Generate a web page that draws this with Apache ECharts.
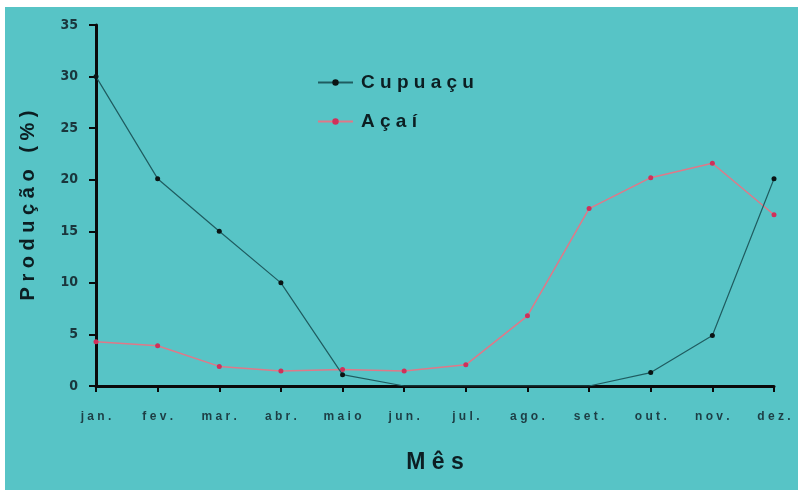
<!DOCTYPE html>
<html>
<head>
<meta charset="utf-8">
<script src="https://cdn.jsdelivr.net/npm/echarts@6/dist/echarts.min.js"></script>
<style>
  html, body { margin: 0; padding: 0; background: #ffffff; }
  #chart { position: absolute; left: 5px; top: 7px; width: 793px; height: 483px; }
</style>
</head>
<body>
<div id="chart"></div>
<script>
// meses
var months = ['jan.', 'fev.', 'mar.', 'abr.', 'maio', 'jun.', 'jul.', 'ago.', 'set.', 'out.', 'nov.', 'dez.'];
// producao (%) por mes
var cupuacu = [30, 20.1, 15, 10, 1.1, 0, 0, 0, 0, 1.3, 4.9, 20.1];
var acai = [4.3, 3.9, 1.9, 1.45, 1.6, 1.45, 2.05, 6.8, 17.2, 20.2, 21.6, 16.6];
var yTicks = [0, 5, 10, 15, 20, 25, 30, 35];

// espaçamento entre letras (zrender nao tem letter-spacing)
function spaced(s, sep) {
    return s.split('').join(sep);
}

var chart = echarts.init(document.getElementById('chart'));
var option = {
    backgroundColor: '#57c4c6',
    animation: false,
    textStyle: { fontFamily: 'Liberation Sans' },
    grid: {
        left: 91,
        right: 24,
        top: 18,
        bottom: 104
    },
    legend: {
        orient: 'vertical',
        left: 307,
        top: 61,
        itemWidth: 35,
        itemHeight: 8,
        itemGap: 20,
        formatter: function (name) { return spaced(name, ' '); },
        textStyle: { fontSize: 19, fontWeight: 'bold', color: '#0c1e22', padding: [0, 0, 0, 3] },
        data: ['Cupuaçu', 'Açaí']
    },
    xAxis: {
        type: 'category',
        data: months,
        boundaryGap: false,
        name: 'Mês',
        nameLocation: 'middle',
        nameGap: 65,
        nameTextStyle: { fontSize: 23, fontWeight: 'bold', color: '#0c1e22' },
        axisLine: { lineStyle: { color: '#0a0a0a', width: 3 } },
        axisTick: { show: true, alignWithLabel: true, length: 6, lineStyle: { color: '#0a0a0a', width: 2 } },
        axisLabel: {
            margin: 25,
            fontSize: 12,
            fontWeight: 'bold',
            color: '#1d3d44',
            formatter: function (v) { return spaced(v, ' '); }
        },
        splitLine: { show: false }
    },
    yAxis: {
        type: 'value',
        min: 0,
        max: 35,
        interval: 5,
        name: 'Produção (%)',
        nameLocation: 'middle',
        nameGap: 58,
        nameTextStyle: { fontSize: 20, fontWeight: 'bold', color: '#0c1e22' },
        axisLine: { show: true, lineStyle: { color: '#0a0a0a', width: 3 } },
        axisTick: { show: true, length: 7, lineStyle: { color: '#0a0a0a', width: 2 } },
        axisLabel: {
            margin: 18,
            fontSize: 14,
            fontWeight: 'bold',
            fontFamily: 'DejaVu Sans Condensed',
            color: '#1a363c',
            formatter: function (v) { return yTicks.indexOf(v) >= 0 ? String(v) : ''; }
        },
        splitLine: { show: false }
    },
    series: [
        {
            name: 'Cupuaçu',
            type: 'line',
            data: cupuacu,
            symbol: 'circle',
            symbolSize: function (v) { return v === 0 ? 0 : 5; },
            lineStyle: { color: '#1f5c60', width: 1.2 },
            itemStyle: { color: '#0a1414' },
            z: 3
        },
        {
            name: 'Açaí',
            type: 'line',
            data: acai,
            symbol: 'circle',
            symbolSize: 5,
            lineStyle: { color: '#e07888', width: 1.5 },
            itemStyle: { color: '#d0305a' },
            z: 2
        }
    ]
};
// titulos dos eixos com letras espaçadas
option.yAxis.name = spaced(option.yAxis.name, ' ');
option.xAxis.name = spaced(option.xAxis.name, ' ');
chart.setOption(option);
</script>
</body>
</html>
